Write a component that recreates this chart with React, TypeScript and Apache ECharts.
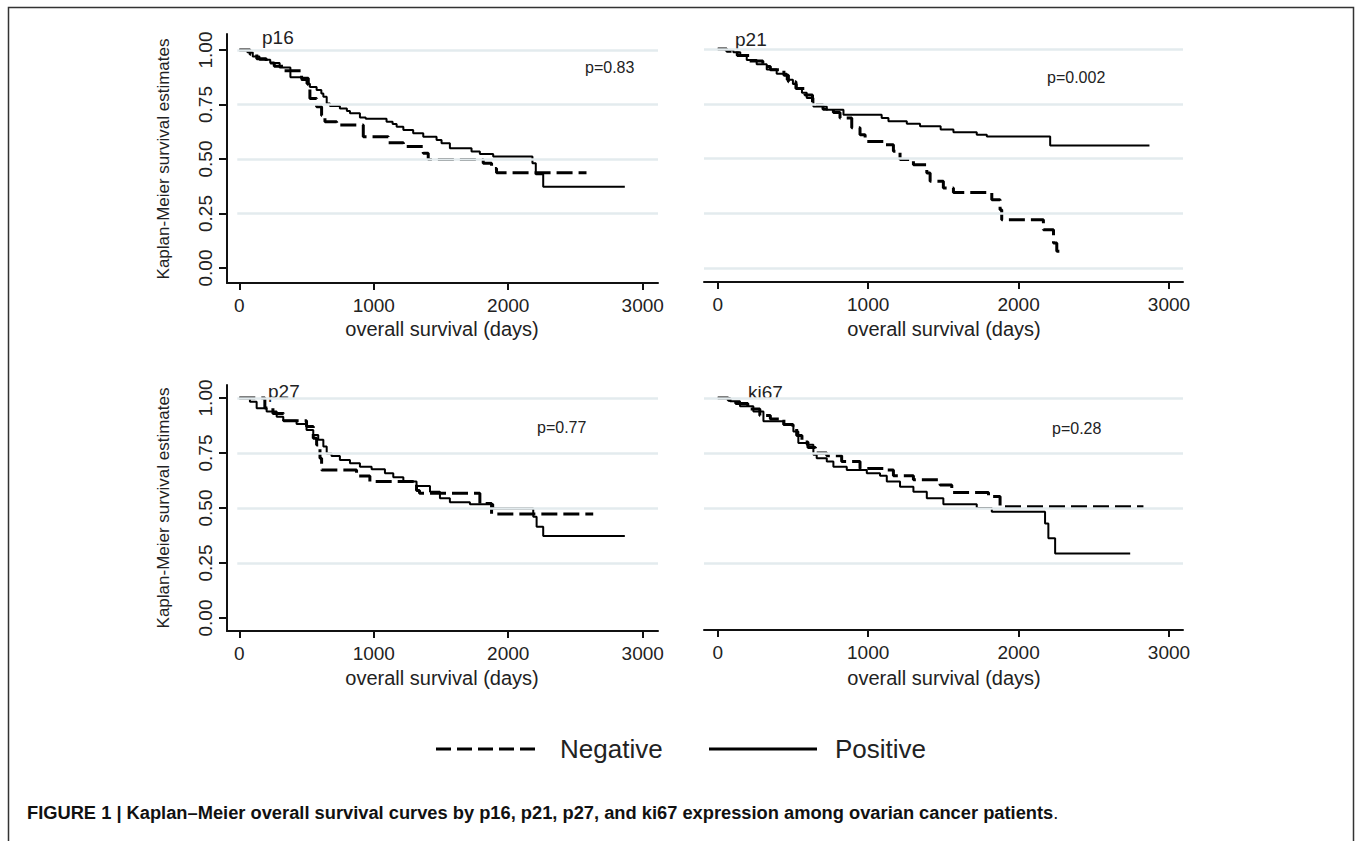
import React, { useEffect, useRef } from "react";
import * as echarts from "echarts";

type Pt = [number, number];

const panelNames = ["p16", "p21", "p27", "ki67"];
const pValues = ["p=0.83", "p=0.002", "p=0.77", "p=0.28"];
const xTicks = [0, 1000, 2000, 3000];
const yTicks = [0, 0.25, 0.5, 0.75, 1];
const legendNames = ["Negative", "Positive"];
const xTitle = "overall survival (days)";
const yTitle = "Kaplan-Meier survival estimates";
const captionBold =
  "FIGURE 1 | Kaplan\u2013Meier overall survival curves by p16, p21, p27, and ki67 expression among ovarian cancer patients";

const p16Positive: Pt[] = [
  [0, 1], [60, 0.99], [100, 0.97], [150, 0.955], [230, 0.94], [300, 0.92], [380, 0.875],
  [463, 0.862], [500, 0.845], [525, 0.83], [575, 0.817], [610, 0.8], [625, 0.786], [650, 0.755],
  [674, 0.743], [748, 0.732], [800, 0.72], [823, 0.71], [897, 0.69], [940, 0.685], [1095, 0.671],
  [1140, 0.66], [1170, 0.648], [1220, 0.633], [1293, 0.618], [1368, 0.602], [1467, 0.587],
  [1504, 0.572], [1566, 0.549], [1727, 0.534], [1789, 0.523], [1888, 0.511], [2180, 0.48],
  [2205, 0.43], [2260, 0.373], [2867, 0.373],
];
const p16Negative: Pt[] = [
  [0, 1], [80, 0.98], [130, 0.96], [200, 0.94], [260, 0.925], [330, 0.905], [463, 0.87],
  [513, 0.84], [525, 0.778], [575, 0.74], [612, 0.7], [637, 0.671], [724, 0.656], [922, 0.602],
  [1108, 0.575], [1220, 0.557], [1368, 0.526], [1405, 0.498], [1814, 0.48], [1876, 0.457],
  [1913, 0.437], [2582, 0.437],
];
const p21Positive: Pt[] = [
  [0, 1], [50, 0.995], [104, 0.985], [150, 0.97], [193, 0.95], [259, 0.93], [326, 0.906],
  [392, 0.887], [459, 0.86], [500, 0.84], [525, 0.82], [560, 0.8], [592, 0.776], [636, 0.738],
  [725, 0.723], [836, 0.7], [1090, 0.685], [1135, 0.67], [1257, 0.659], [1345, 0.647],
  [1482, 0.632], [1567, 0.62], [1722, 0.609], [1789, 0.6], [2210, 0.559], [2870, 0.559],
];
const p21Negative: Pt[] = [
  [0, 1], [60, 0.99], [130, 0.97], [210, 0.945], [300, 0.92], [350, 0.905], [440, 0.88],
  [470, 0.85], [520, 0.82], [580, 0.79], [630, 0.745], [700, 0.725], [769, 0.71], [813, 0.685],
  [891, 0.64], [946, 0.609], [980, 0.578], [1113, 0.563], [1168, 0.533], [1212, 0.495],
  [1301, 0.472], [1390, 0.434], [1412, 0.396], [1500, 0.365], [1567, 0.345], [1822, 0.312],
  [1877, 0.266], [1888, 0.22], [2165, 0.175], [2232, 0.114], [2254, 0.076], [2309, 0.076],
];
const p27Positive: Pt[] = [
  [0, 1], [79, 0.983], [129, 0.953], [203, 0.938], [278, 0.915], [327, 0.897], [426, 0.882],
  [500, 0.855], [550, 0.832], [587, 0.81], [625, 0.779], [650, 0.748], [686, 0.736], [748, 0.718],
  [823, 0.703], [897, 0.688], [984, 0.676], [1083, 0.658], [1145, 0.64], [1220, 0.62],
  [1318, 0.6], [1418, 0.574], [1492, 0.544], [1566, 0.526], [1715, 0.517], [1888, 0.498],
  [2186, 0.46], [2211, 0.415], [2260, 0.373], [2867, 0.373],
];
const p27Negative: Pt[] = [
  [0, 1], [190, 0.955], [250, 0.93], [330, 0.897], [500, 0.87], [550, 0.817], [575, 0.786],
  [600, 0.726], [612, 0.673], [872, 0.645], [971, 0.62], [1318, 0.58], [1340, 0.567],
  [1789, 0.52], [1876, 0.473], [2632, 0.473],
];
const ki67Positive: Pt[] = [
  [0, 1], [82, 0.985], [148, 0.962], [237, 0.939], [304, 0.894], [437, 0.878], [503, 0.848],
  [536, 0.795], [592, 0.787], [636, 0.742], [658, 0.726], [725, 0.711], [769, 0.688],
  [858, 0.673], [991, 0.658], [1079, 0.646], [1124, 0.62], [1212, 0.597], [1301, 0.574],
  [1390, 0.544], [1500, 0.517], [1722, 0.5], [1822, 0.483], [2176, 0.43], [2198, 0.362],
  [2243, 0.293], [2742, 0.293],
];
const ki67Negative: Pt[] = [
  [0, 1], [70, 0.99], [120, 0.975], [200, 0.95], [280, 0.92], [350, 0.905], [440, 0.88],
  [500, 0.86], [525, 0.83], [560, 0.8], [600, 0.775], [650, 0.75], [725, 0.737], [824, 0.711],
  [946, 0.68], [1101, 0.673], [1168, 0.646], [1301, 0.628], [1478, 0.605], [1556, 0.57],
  [1800, 0.552], [1877, 0.506], [2830, 0.506],
];

const positives = [p16Positive, p21Positive, p27Positive, ki67Positive];
const negatives = [p16Negative, p21Negative, p27Negative, ki67Negative];
const gridLevels = [
  [0.25, 0.5, 0.75, 1],
  [0, 0.25, 0.5, 0.75, 1],
  [0.25, 0.5, 0.75, 1],
  [0.25, 0.5, 0.75, 1],
];

const FONT = "'Liberation Sans', Arial, Helvetica, sans-serif";
const TXT = "#222";

export default function App() {
  const ref = useRef<HTMLDivElement>(null);
  useEffect(() => {
    if (!ref.current) return;
    const chart = echarts.init(ref.current, undefined, { renderer: "svg" });

    const grids = [
      { left: 227, top: 34, width: 431, height: 249 },
      { left: 704, top: 34, width: 479, height: 248 },
      { left: 227, top: 385, width: 431, height: 246 },
      { left: 704, top: 385, width: 479, height: 245 },
    ];
    const xRanges = [
      [-91.5, 3113.7],
      [-91.1, 3093],
      [-91.5, 3113.7],
      [-91.1, 3093],
    ];
    const yRanges = [
      [-0.0688, 1.0734],
      [-0.0639, 1.0685],
      [-0.059, 1.059],
      [-0.0545, 1.059],
    ];
    const gridStart = [-15, -91.1, -15, -91.1];
    const showY = [true, false, true, false];

    const xAxis = grids.map((_, i) => ({
      type: "value",
      gridIndex: i,
      min: xRanges[i][0],
      max: xRanges[i][1],
      axisLine: { show: true, onZero: false, lineStyle: { color: "#111", width: 2 } },
      axisTick: { show: true, length: 7, customValues: xTicks, lineStyle: { color: "#111", width: 2 } },
      axisLabel: {
        show: true,
        customValues: xTicks,
        margin: 13,
        fontSize: 19,
        color: TXT,
        fontFamily: FONT,
        formatter: (v: number) => String(v),
      },
      splitLine: { show: false },
    }));
    const yAxis = grids.map((_, i) => ({
      type: "value",
      gridIndex: i,
      min: yRanges[i][0],
      max: yRanges[i][1],
      axisLine: { show: showY[i], onZero: false, lineStyle: { color: "#111", width: 2 } },
      axisTick: { show: showY[i], length: 8, customValues: yTicks, lineStyle: { color: "#111", width: 2 } },
      axisLabel: {
        show: showY[i],
        customValues: yTicks,
        rotate: 90,
        margin: 12,
        fontSize: 19,
        color: TXT,
        fontFamily: FONT,
        formatter: (v: number) => v.toFixed(2),
      },
      splitLine: { show: false },
    }));

    const series: any[] = [];
    grids.forEach((_, i) => {
      series.push({
        type: "line",
        name: "grid" + i,
        xAxisIndex: i,
        yAxisIndex: i,
        data: [],
        z: 1,
        silent: true,
        markLine: {
          silent: true,
          symbol: "none",
          label: { show: false },
          lineStyle: { color: "#e3ebee", width: 2.5, type: "solid" },
          data: gridLevels[i].map((v) => [
            { coord: [gridStart[i], v] },
            { coord: [xRanges[i][1], v] },
          ]),
        },
      });
      series.push({
        type: "line",
        name: legendNames[0],
        xAxisIndex: i,
        yAxisIndex: i,
        data: negatives[i],
        step: "end",
        showSymbol: false,
        symbol: "none",
        z: 3,
        lineStyle: { color: "#000", width: 3, type: [16, 6] },
      });
      series.push({
        type: "line",
        name: legendNames[1],
        xAxisIndex: i,
        yAxisIndex: i,
        data: positives[i],
        step: "end",
        showSymbol: false,
        symbol: "none",
        z: 4,
        lineStyle: { color: "#000", width: 2 },
      });
    });

    const txt = (x: number, y: number, text: string, size: number, extra: any = {}) => ({
      type: "text",
      x,
      y,
      silent: true,
      style: {
        text,
        fontSize: size,
        fontFamily: FONT,
        fill: TXT,
        align: "left",
        verticalAlign: "middle",
        ...extra,
      },
    });

    const panelLabelPos = [
      [262, 37],
      [735, 39],
      [268, 391],
      [748, 392],
    ];
    const pPos = [
      [585, 67],
      [1047, 77],
      [537, 427],
      [1052, 428],
    ];
    const xTitlePos = [
      [442, 329],
      [944, 329],
      [442, 678],
      [944, 678],
    ];

    const graphic: any[] = [
      {
        type: "rect",
        silent: true,
        shape: { x: 8.5, y: 7.5, width: 1345, height: 900 },
        style: { fill: "none", stroke: "#333", lineWidth: 1.5 },
        z: -10,
      },
    ];
    panelNames.forEach((n, i) => {
      graphic.push(txt(panelLabelPos[i][0], panelLabelPos[i][1], n, 19));
      graphic.push(txt(pPos[i][0], pPos[i][1], pValues[i], 16));
      graphic.push(txt(xTitlePos[i][0], xTitlePos[i][1], xTitle, 20, { align: "center" }));
    });
    [159, 508].forEach((cy) => {
      graphic.push({
        type: "text",
        x: 163,
        y: cy,
        rotation: Math.PI / 2,
        silent: true,
        style: {
          text: yTitle,
          fontSize: 17,
          fontFamily: FONT,
          fill: TXT,
          align: "center",
          verticalAlign: "middle",
        },
      });
    });
    // legend
    graphic.push({
      type: "line",
      silent: true,
      shape: { x1: 436, y1: 749, x2: 537, y2: 749 },
      style: { stroke: "#000", lineWidth: 3, lineDash: [15, 6] },
    });
    graphic.push(txt(560, 749, legendNames[0], 26));
    graphic.push({
      type: "line",
      silent: true,
      shape: { x1: 709, y1: 749, x2: 817, y2: 749 },
      style: { stroke: "#000", lineWidth: 3 },
    });
    graphic.push(txt(835, 749, legendNames[1], 26));
    // caption
    graphic.push({
      type: "text",
      x: 27,
      y: 812,
      silent: true,
      style: {
        text: "{b|" + captionBold + "}{n|.}",
        verticalAlign: "middle",
        align: "left",
        rich: {
          b: { fontSize: 18.3, fontWeight: "bold", fontFamily: FONT, fill: "#111" },
          n: { fontSize: 18.3, fontWeight: "normal", fontFamily: FONT, fill: "#111" },
        },
      },
    });

    chart.setOption({
      animation: false,
      backgroundColor: "#fff",
      textStyle: { fontFamily: FONT },
      grid: grids.map((g) => ({ ...g, containLabel: false })),
      xAxis,
      yAxis,
      series,
      graphic,
    });

    return () => chart.dispose();
  }, []);

  return (
    <div
      ref={ref}
      style={{ position: "fixed", left: 0, top: 0, width: 1355, height: 841 }}
    />
  );
}
